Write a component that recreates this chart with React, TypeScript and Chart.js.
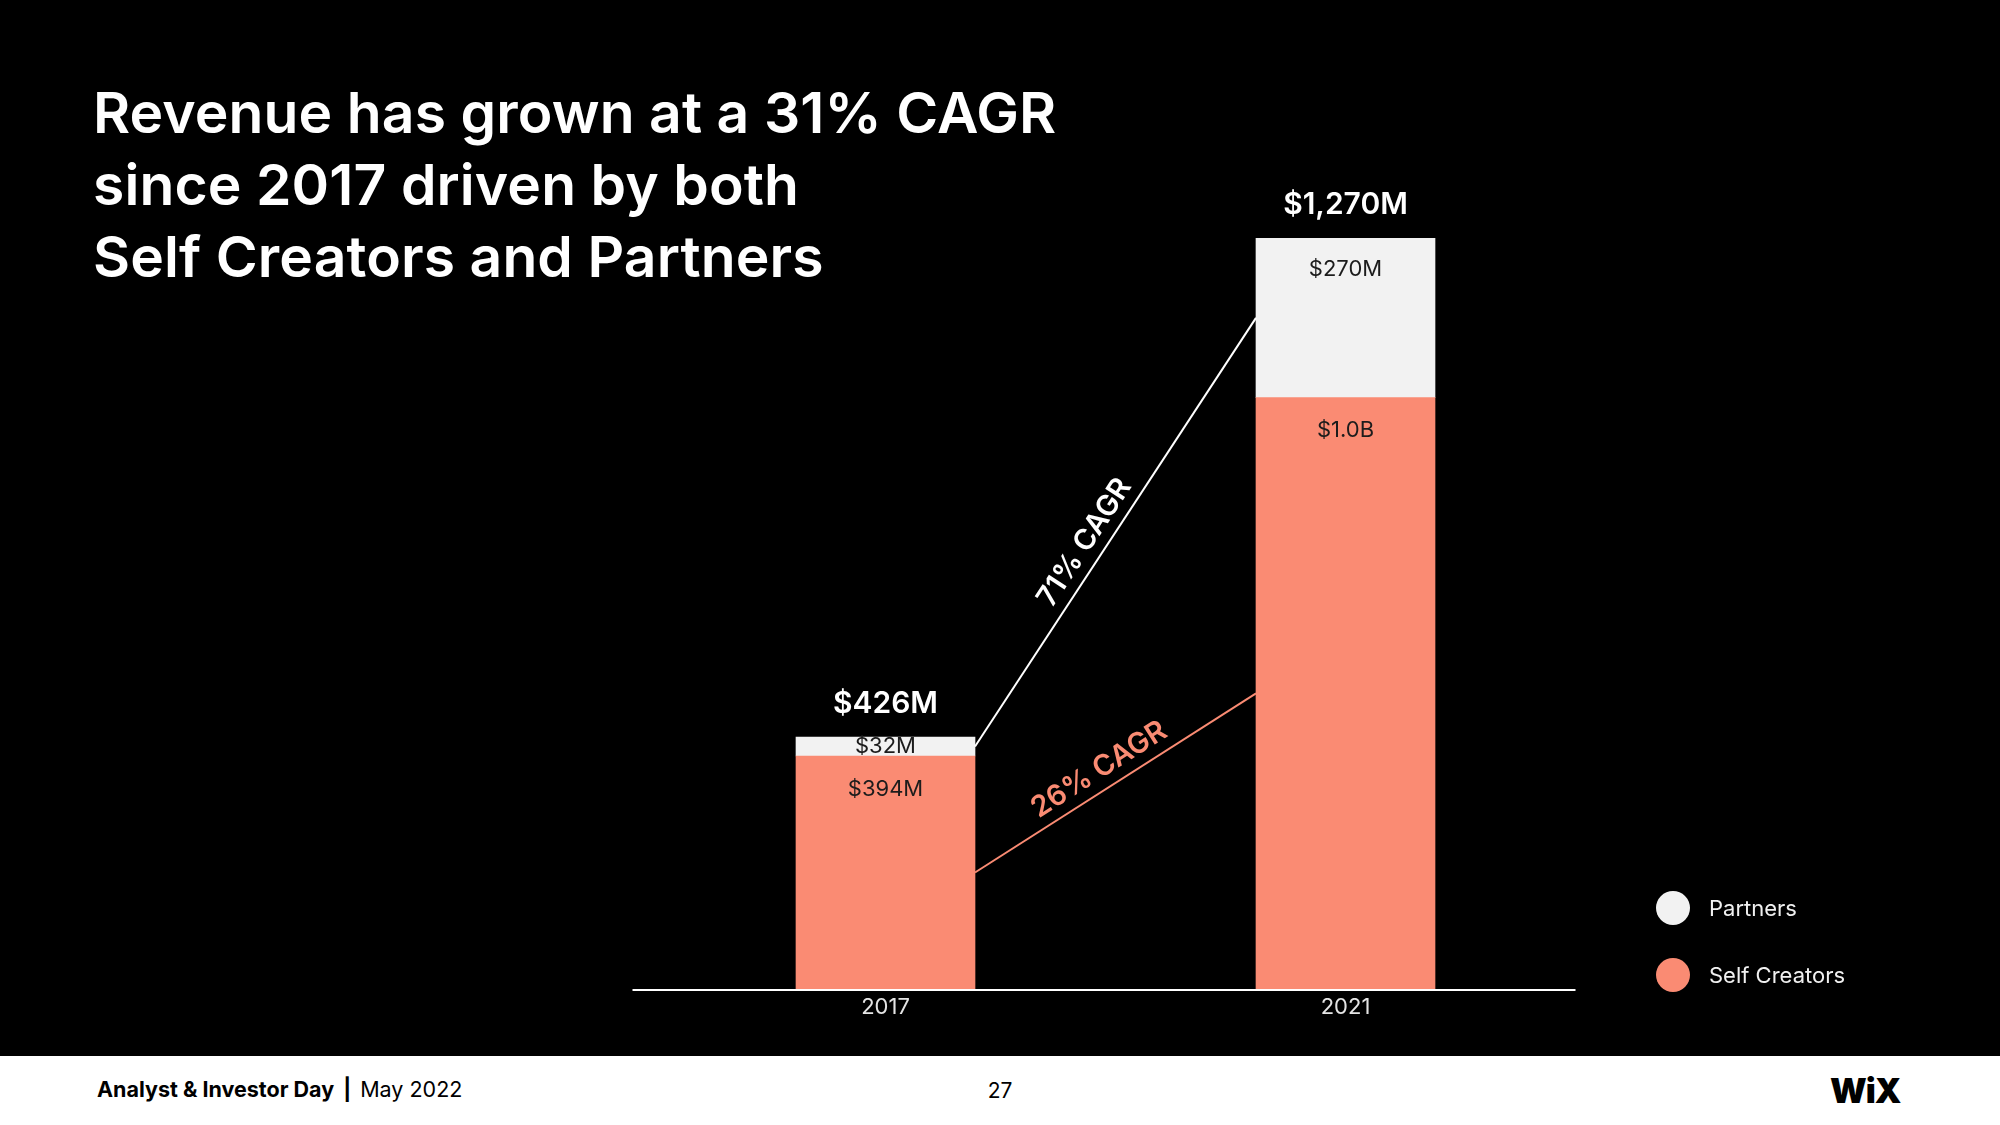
import React, { useEffect, useRef } from "react";
import { Chart, registerables } from "chart.js";

Chart.register(...registerables);

const categories = ["2017", "2021"];
const selfCreators = [394, 1000];
const partners = [32, 270];
const selfLabels = ["$394M", "$1.0B"];
const partnerLabels = ["$32M", "$270M"];
const totalLabels = ["$426M", "$1,270M"];
const partnersCagr = "71% CAGR";
const selfCagr = "26% CAGR";
const yMax = 1270;

const SALMON = "#FA8B73";
const LIGHT = "#F2F2F2";
const FONT = "Inter, 'Noto Sans', sans-serif";

const labelPlugin = {
  id: "slideLabels",
  afterDatasetsDraw(chart: any) {
    const ctx = chart.ctx;
    const xs = chart.scales.x;
    const ys = chart.scales.y;
    const area = chart.chartArea;
    const selfMeta = chart.getDatasetMeta(0);
    const partMeta = chart.getDatasetMeta(1);
    ctx.save();

    // axis line
    const y0 = ys.getPixelForValue(0);
    ctx.fillStyle = "#ffffff";
    ctx.fillRect(area.left - 23, y0, area.right - area.left + 23, 2);

    // category labels
    ctx.textAlign = "center";
    ctx.textBaseline = "middle";
    ctx.font = `22px ${FONT}`;
    ctx.fillStyle = "#e4e4e4";
    categories.forEach((c, i) => ctx.fillText(c, xs.getPixelForValue(i), y0 + 18));

    // bar labels
    categories.forEach((_, i) => {
      const s = selfMeta.data[i];
      const p = partMeta.data[i];
      ctx.fillStyle = "#1c1c1c";
      ctx.font = `22px ${FONT}`;
      const sy = Math.min(s.y + 33, (s.y + s.base) / 2);
      ctx.fillText(selfLabels[i], s.x, sy);
      const py = Math.min(p.y + 31, (p.y + p.base) / 2);
      ctx.fillText(partnerLabels[i], p.x, py);
      ctx.fillStyle = "#ffffff";
      ctx.font = `600 30px ${FONT}`;
      ctx.fillText(totalLabels[i], p.x, p.y - 33);
    });

    // CAGR connectors
    const drawConnector = (meta: any, color: string, text: string, t: number) => {
      const a = meta.data[0];
      const b = meta.data[1];
      const x1 = a.x + a.width / 2;
      const y1 = (a.y + a.base) / 2;
      const x2 = b.x - b.width / 2;
      const y2 = (b.y + b.base) / 2;
      ctx.strokeStyle = color;
      ctx.lineWidth = 2;
      ctx.beginPath();
      ctx.moveTo(x1, y1);
      ctx.lineTo(x2, y2);
      ctx.stroke();
      const len = Math.hypot(x2 - x1, y2 - y1);
      const dx = (x2 - x1) / len;
      const dy = (y2 - y1) / len;
      const off = 20;
      const cx = x1 + (x2 - x1) * t + dy * off;
      const cy = y1 + (y2 - y1) * t - dx * off;
      ctx.save();
      ctx.translate(cx, cy);
      ctx.rotate(Math.atan2(y2 - y1, x2 - x1));
      ctx.fillStyle = color;
      ctx.font = `600 29px ${FONT}`;
      ctx.textAlign = "center";
      ctx.textBaseline = "middle";
      ctx.fillText(text, 0, 0);
      ctx.restore();
    };
    drawConnector(partMeta, "#ffffff", partnersCagr, 0.45);
    drawConnector(selfMeta, SALMON, selfCagr, 0.48);

    ctx.restore();
  },
};

function RevenueChart() {
  const ref = useRef<HTMLCanvasElement>(null);
  useEffect(() => {
    if (!ref.current) return;
    const chart = new Chart(ref.current, {
      type: "bar",
      data: {
        labels: categories,
        datasets: [
          {
            label: "Self Creators",
            data: selfCreators,
            backgroundColor: SALMON,
            borderWidth: 0,
            barThickness: 179,
          },
          {
            label: "Partners",
            data: partners,
            backgroundColor: LIGHT,
            borderWidth: 0,
            barThickness: 179,
          },
        ],
      },
      options: {
        responsive: false,
        animation: false,
        devicePixelRatio: 1,
        layout: { padding: { left: 655.5, right: 424.5, top: 238, bottom: 67 } },
        scales: {
          x: { type: "category", stacked: true, display: false, offset: true },
          y: { stacked: true, display: false, min: 0, max: yMax },
        },
        plugins: { legend: { display: false }, tooltip: { enabled: false } },
      },
      plugins: [labelPlugin],
    });
    return () => chart.destroy();
  }, []);
  return (
    <canvas
      ref={ref}
      width={2000}
      height={1056}
      style={{ position: "absolute", left: 0, top: 0, width: 2000, height: 1056, display: "block" }}
    />
  );
}

const legendItems = [
  { label: "Partners", color: LIGHT, top: 908 },
  { label: "Self Creators", color: SALMON, top: 975 },
];

export default function App() {
  return (
    <div
      style={{
        position: "fixed",
        left: 0,
        top: 0,
        width: 2000,
        height: 1125,
        background: "#000",
        overflow: "hidden",
        fontFamily: FONT,
      }}
    >
      <RevenueChart />
      <div
        style={{
          position: "absolute",
          left: 93,
          top: 77,
          color: "#fff",
          fontSize: 57,
          fontWeight: 600,
          lineHeight: "72px",
          letterSpacing: "0.1px",
          whiteSpace: "nowrap",
        }}
      >
        <div>Revenue has grown at a 31% CAGR</div>
        <div>since 2017 driven by both</div>
        <div>Self Creators and Partners</div>
      </div>
      {legendItems.map((it) => (
        <div
          key={it.label}
          style={{
            position: "absolute",
            left: 1656,
            top: it.top - 17,
            height: 34,
            display: "flex",
            alignItems: "center",
            color: "#f0f0f0",
            fontSize: 22,
          }}
        >
          <span
            style={{
              width: 34,
              height: 34,
              borderRadius: "50%",
              background: it.color,
              display: "inline-block",
              marginRight: 19,
            }}
          />
          <span>{it.label}</span>
        </div>
      ))}
      <div
        style={{
          position: "absolute",
          left: 0,
          top: 1056,
          width: 2000,
          height: 69,
          background: "#fff",
          color: "#000",
        }}
      >
        <div
          style={{
            position: "absolute",
            left: 97,
            top: 0,
            height: 66,
            display: "flex",
            alignItems: "center",
            fontSize: 21.5,
            whiteSpace: "nowrap",
          }}
        >
          <span style={{ fontWeight: 700 }}>Analyst &amp; Investor Day</span>
          <span style={{ fontWeight: 700, margin: "0 9px" }}>|</span>
          <span>May 2022</span>
        </div>
        <div
          style={{
            position: "absolute",
            left: 980,
            width: 40,
            top: 0,
            height: 68,
            display: "flex",
            alignItems: "center",
            justifyContent: "center",
            fontSize: 21,
          }}
        >
          27
        </div>
        <div
          style={{
            position: "absolute",
            left: 1830,
            top: 0,
            height: 68,
            display: "flex",
            alignItems: "center",
            fontSize: 34,
            fontWeight: 900,
            letterSpacing: "-1px",
          }}
        >
          WiX
        </div>
      </div>
    </div>
  );
}
